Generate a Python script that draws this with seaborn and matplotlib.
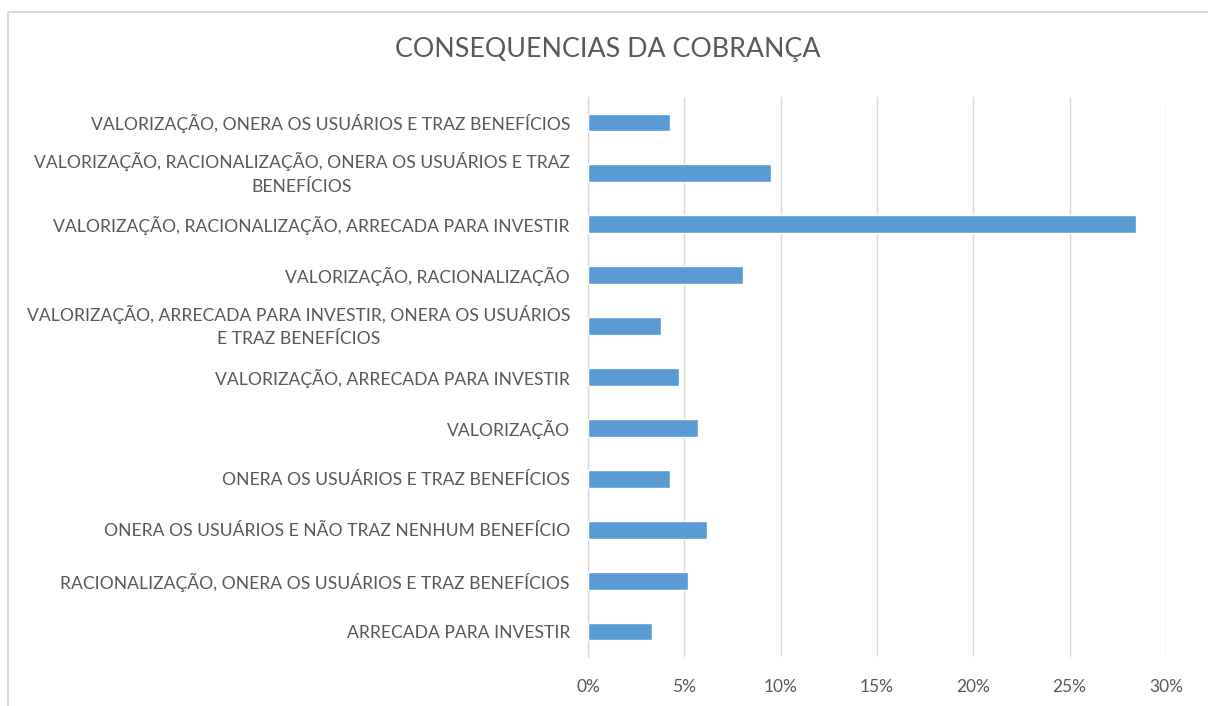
import pandas as pd
import numpy as np
import seaborn as sns
import matplotlib
matplotlib.use('Agg')
import matplotlib.pyplot as plt
from matplotlib.patches import Rectangle
from matplotlib.ticker import PercentFormatter

# dados (percentual de respostas)
categorias = [
    'VALORIZAÇÃO, ONERA OS USUÁRIOS E TRAZ BENEFÍCIOS',
    'VALORIZAÇÃO, RACIONALIZAÇÃO, ONERA OS USUÁRIOS E TRAZ\nBENEFÍCIOS',
    'VALORIZAÇÃO, RACIONALIZAÇÃO, ARRECADA PARA INVESTIR',
    'VALORIZAÇÃO, RACIONALIZAÇÃO',
    'VALORIZAÇÃO, ARRECADA PARA INVESTIR, ONERA OS USUÁRIOS\nE TRAZ BENEFÍCIOS',
    'VALORIZAÇÃO, ARRECADA PARA INVESTIR',
    'VALORIZAÇÃO',
    'ONERA OS USUÁRIOS E TRAZ BENEFÍCIOS',
    'ONERA OS USUÁRIOS E NÃO TRAZ NENHUM BENEFÍCIO',
    'RACIONALIZAÇÃO, ONERA OS USUÁRIOS E TRAZ BENEFÍCIOS',
    'ARRECADA PARA INVESTIR',
]
percentuais = [4.27, 9.48, 28.44, 8.06, 3.79, 4.74, 5.69, 4.27, 6.16, 5.21, 3.32]
ticks_x = [0, 5, 10, 15, 20, 25, 30]

titulo = 'CONSEQUENCIAS DA COBRANÇA'

cinza_texto = '#595959'
cinza_linha = '#d9d9d9'
azul = '#5b9bd5'

df = pd.DataFrame({'categoria': categorias, 'pct': percentuais})

sns.set_theme(style='white')
plt.rcParams['font.family'] = ['Lato', 'DejaVu Sans']

fig = plt.figure(figsize=(12.08, 7.06), dpi=100)
ax = fig.add_axes([588 / 1208, 1 - 657 / 706, (1166 - 588) / 1208, (657 - 97) / 706])

sns.barplot(data=df, x='pct', y='categoria', orient='h', color=azul,
            width=0.35, saturation=1, ax=ax, zorder=3)

ax.set_xlim(0, 30)
ax.set_ylim(len(categorias) - 0.5, -0.5)
ax.set_xticks(ticks_x)
ax.xaxis.set_major_formatter(PercentFormatter(decimals=0))
ax.set_xlabel('')
ax.set_ylabel('')

ax.grid(axis='x', color=cinza_linha, linewidth=1, zorder=0)
ax.grid(axis='y', visible=False)
for lado in ['top', 'right', 'bottom']:
    ax.spines[lado].set_visible(False)
ax.spines['left'].set_color(cinza_linha)
ax.spines['left'].set_linewidth(1)

ax.tick_params(axis='x', length=0, pad=16, labelsize=12.5, labelcolor=cinza_texto)
ax.tick_params(axis='y', length=0, pad=13, labelsize=12.6, labelcolor=cinza_texto)
for lbl in ax.get_yticklabels():
    lbl.set_multialignment('center')
    lbl.set_linespacing(1.6)
    if '\n' in lbl.get_text():
        lbl.set_verticalalignment('center')

fig.text(608 / 1208, 1 - 50 / 706, titulo, ha='center', va='center',
         fontsize=19.3, color=cinza_texto)

# moldura do grafico
fig.patches.append(Rectangle((8 / 1208, -0.05), 1.1, 1 - 12 / 706 + 0.05,
                             transform=fig.transFigure, fill=False,
                             edgecolor=cinza_linha, linewidth=1.5))

fig.savefig('out.png', dpi=100, facecolor='white')
